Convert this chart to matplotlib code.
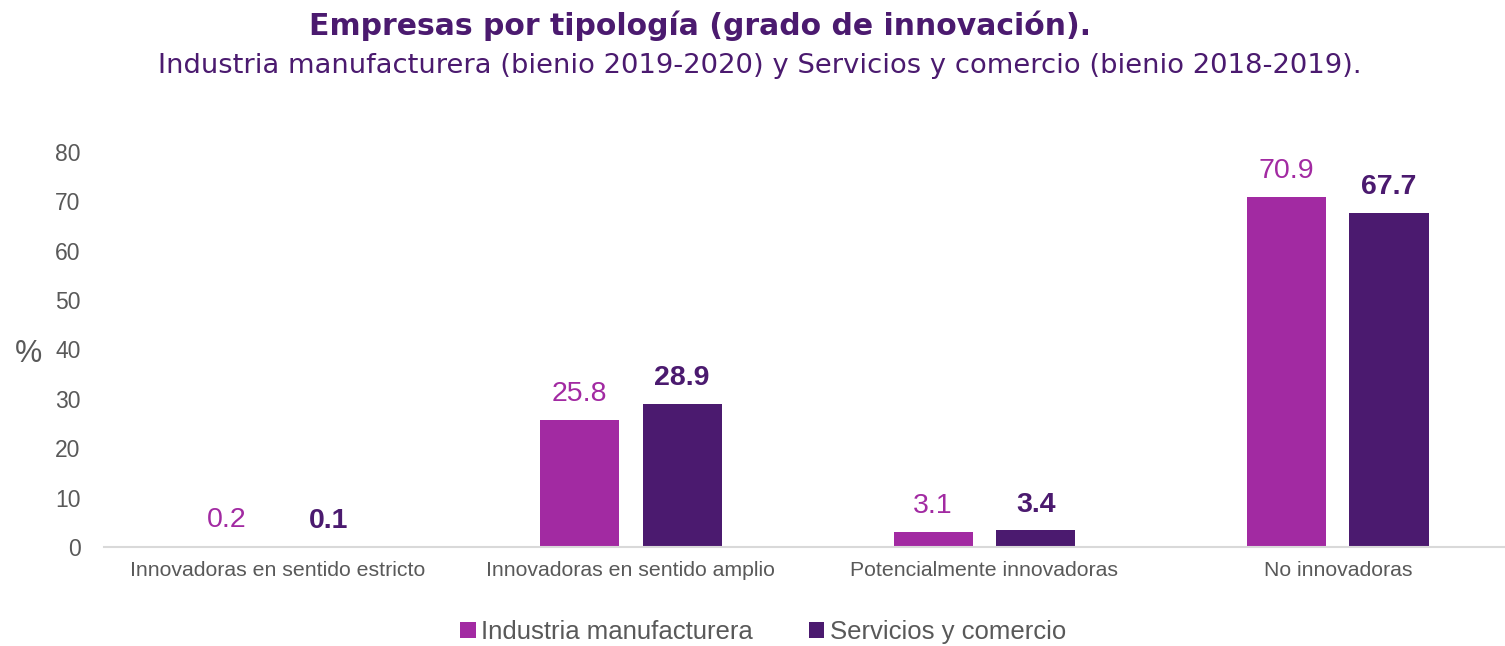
import numpy as np
import matplotlib.pyplot as plt

categorias = ["Innovadoras en sentido estricto", "Innovadoras en sentido amplio",
              "Potencialmente innovadoras", "No innovadoras"]
industria = [0.2, 25.8, 3.1, 70.9]
servicios = [0.1, 28.9, 3.4, 67.7]
series = ["Industria manufacturera", "Servicios y comercio"]

c_ind = "#A22AA2"
c_ser = "#4B1A6F"
gris = "#595959"

plt.rcParams['font.family'] = ['Liberation Sans', 'DejaVu Sans']

fig = plt.figure(figsize=(15.05, 6.46), dpi=100)
ax = fig.add_axes([0.0693, 0.153, 0.9307, 0.612])

x = np.arange(len(categorias))
w = 0.224
off = 0.145
b1 = ax.bar(x - off, industria, w, color=c_ind, label=series[0])
b2 = ax.bar(x + off, servicios, w, color=c_ser, label=series[1])

for r, v in zip(b1, industria):
    ax.text(r.get_x() + r.get_width() / 2, v + 2.6, f"{v:.1f}", ha="center", va="bottom",
            fontsize=20.5, color=c_ind)
for r, v in zip(b2, servicios):
    ax.text(r.get_x() + r.get_width() / 2, v + 2.6, f"{v:.1f}", ha="center", va="bottom",
            fontsize=20.5, color=c_ser, fontweight="bold")

ax.set_xlim(-0.49, 3.473)
ax.set_ylim(0, 80)
ax.set_yticks(range(0, 81, 10))
ax.set_xticks(x)
ax.set_xticklabels(categorias, fontsize=15.3, color=gris)
ax.tick_params(axis="y", labelsize=16.5, colors=gris, length=0, pad=17)
ax.tick_params(axis="x", length=0, pad=10)
for s in ["top", "right", "left"]:
    ax.spines[s].set_visible(False)
ax.spines["bottom"].set_color("#D9D9D9")
ax.spines["bottom"].set_linewidth(1.5)

fig.text(0.01, 0.452, "%", fontsize=22, color=gris, va="center")

fig.text(0.465, 0.96, "Empresas por tipología (grado de innovación).", ha="center", va="center",
         fontsize=21.5, fontweight="bold", color=c_ser, family=["DejaVu Sans"])
fig.text(0.505, 0.898, "Industria manufacturera (bienio 2019-2020) y Servicios y comercio (bienio 2018-2019).",
         ha="center", va="center", fontsize=19.7, color=c_ser, family=["DejaVu Sans"])

fig.legend(loc="center", bbox_to_anchor=(0.507, 0.022), ncol=2, frameon=False, fontsize=18.5,
           handlelength=0.6, handleheight=0.6, handletextpad=0.2, columnspacing=2.2,
           labelcolor=gris)

fig.savefig("out.png", dpi=100)
